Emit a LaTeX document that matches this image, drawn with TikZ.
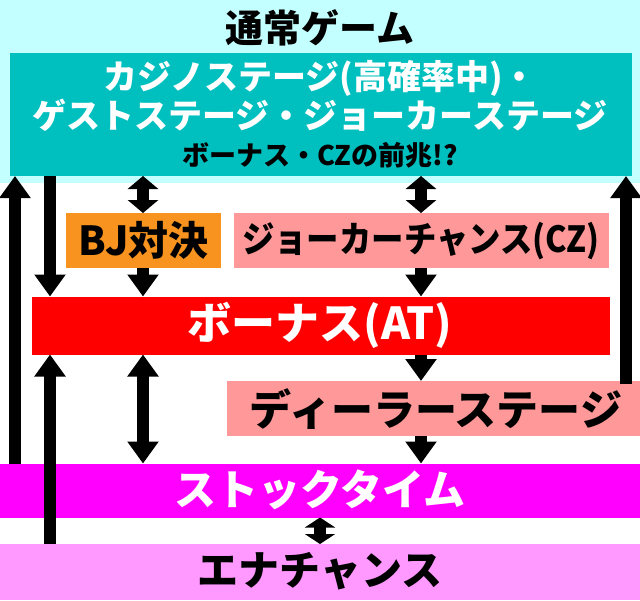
\documentclass[tikz,border=0pt]{standalone}
\usepackage{fontspec}
\newfontfamily\jp{Noto Sans CJK JP}
\usetikzlibrary{arrows.meta}
\definecolor{lcyan}{HTML}{C4FFFF}
\definecolor{teal2}{HTML}{00BFBF}
\definecolor{orng}{HTML}{F7931E}
\definecolor{pnk}{HTML}{FF9999}
\definecolor{rd}{HTML}{FF0000}
\definecolor{mag}{HTML}{FF00FF}
\definecolor{lmag}{HTML}{FF99FF}
\newcommand{\fsz}[1]{\fontsize{#1}{#1}\selectfont}
\begin{document}
\begin{tikzpicture}[x=1pt,y=-1pt]
\tikzset{
  panel/.style={inner sep=0pt, outer sep=0pt, draw=none},
  lbl/.style={inner sep=0pt, outer sep=0pt, font=\jp\bfseries, anchor=center},
  bar/.style={line width=12pt, -{Triangle[width=30pt,length=22pt]}},
  dbar/.style={line width=12pt, {Triangle[width=30pt,length=13pt]}-{Triangle[width=30pt,length=13pt]}},
  dbarshort/.style={line width=12pt, {Triangle[width=30pt,length=10pt]}-{Triangle[width=30pt,length=10pt]}},
  dbarlong/.style={line width=12pt, {Triangle[width=30pt,length=22pt]}-{Triangle[width=30pt,length=22pt]}},
}
\useasboundingbox (0,0) rectangle (640,600);
% panels
\node[panel, fill=lcyan, minimum width=640pt, minimum height=183pt] (bg) at (320,91.5) {};
\node[panel, fill=teal2, minimum width=622pt, minimum height=123pt] (teal) at (321,114.5) {};
\node[panel, fill=orng, minimum width=155pt, minimum height=55pt] (bj) at (143.5,240.5) {};
\node[panel, fill=pnk, minimum width=375pt, minimum height=55pt] (cz) at (421.5,240.5) {};
\node[panel, fill=rd, minimum width=578pt, minimum height=58pt] (bonus) at (321,325.5) {};
\node[panel, fill=pnk, minimum width=413pt, minimum height=55pt] (dealer) at (433.5,408.5) {};
\node[panel, fill=mag, minimum width=640pt, minimum height=54pt] (stock) at (320,490.5) {};
\node[panel, fill=lmag, minimum width=640pt, minimum height=56pt] (ena) at (320,572) {};
% texts
\node[lbl] (t0) at (320,28) {\fsz{38}通常ゲーム};
\node[lbl, text=white] (t1) at (320,78) {\fsz{34}カジノステージ(高確率中)・};
\node[lbl, text=white] (t2) at (320,115) {\fsz{34}ゲストステージ・ジョーカーステージ};
\node[lbl] (t3) at (320,155) {\fsz{27}ボーナス・CZの前兆!?};
\node[lbl] (tbj) at (bj.center) {\fsz{40}BJ対決};
\node[lbl] (tcz) at (421,241) {\fsz{36}\scalebox{0.9}[1]{ジョーカーチャンス(CZ)}};
\node[lbl, text=white] (tbo) at (320,325) {\fsz{44}ボーナス(AT)};
\node[lbl] (tde) at (436,409) {\fsz{42}ディーラーステージ};
\node[lbl, text=white] (tst) at (320,490) {\fsz{42}ストックタイム};
\node[lbl] (ten) at (320,571) {\fsz{41}エナチャンス};
% x positions of arrows
\coordinate (xA) at (15,0);
\coordinate (xB) at (50,0);
\coordinate (xC) at (143,0);
\coordinate (xD) at (421,0);
\coordinate (xE) at (626,0);
\coordinate (xF) at (320,0);
% arrows
\draw[bar] (stock.north -| xA) -- (teal.south -| xA);
\draw[bar] (teal.south -| xB) -- (bonus.north -| xB);
\draw[bar] (ena.north -| xB) -- (bonus.south -| xB);
\draw[dbar] (teal.south -| xC) -- (bj.north -| xC);
\draw[bar] (bj.south -| xC) -- (bonus.north -| xC);
\draw[dbarlong] (bonus.south -| xC) -- (stock.north -| xC);
\draw[dbar] (teal.south -| xD) -- (cz.north -| xD);
\draw[bar] (cz.south -| xD) -- (bonus.north -| xD);
\draw[bar] (bonus.south -| xD) -- (dealer.north -| xD);
\draw[bar] (dealer.south -| xD) -- (stock.north -| xD);
\draw[bar] ([yshift=-3pt]dealer.north -| xE) -- (teal.south -| xE);
\draw[dbarshort] (stock.south -| xF) -- (ena.north -| xF);
\end{tikzpicture}
\end{document}
